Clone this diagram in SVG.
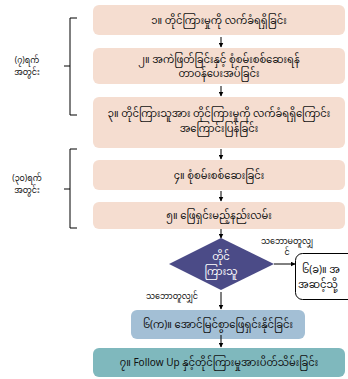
<svg xmlns="http://www.w3.org/2000/svg" width="348" height="379" viewBox="0 0 348 379">
<defs>
<marker id="ah" viewBox="0 0 10 10" refX="9" refY="5" markerWidth="5" markerHeight="5" orient="auto">
<path d="M0,0 L10,5 L0,10 z" fill="#000"/>
</marker>
<style>
.t{font-family:"Noto Sans Myanmar","Noto Sans","DejaVu Sans",sans-serif;font-size:10px;fill:#111;text-anchor:middle}
.s{font-family:"Noto Sans Myanmar","Noto Sans","DejaVu Sans",sans-serif;font-size:8px;fill:#111;text-anchor:middle}
.peach{fill:#f5ddd0}
.c{stroke:#000;stroke-width:1;fill:none;marker-end:url(#ah)}
.br{stroke:#000;stroke-width:1;fill:none}
</style>
</defs>
<rect width="348" height="379" fill="#fff"/>
<g id="bracket1">
<path class="br" d="M77,18 H70 V115 H77 M70,66 H64"/>
<text class="s" x="27" y="63">(၇)ရက်</text>
<text class="s" x="27" y="75">အတွင်း</text>
</g>
<g id="bracket2">
<path class="br" d="M77,149 H70 V228 H77 M70,189 H64"/>
<text class="s" x="27" y="181">(၃၀)ရက်</text>
<text class="s" x="27" y="193">အတွင်း</text>
</g>
<g id="n1">
<rect class="peach" x="93" y="5" width="252" height="30" rx="6"/>
<text class="t" x="219" y="24">၁။ တိုင်ကြားမှုကို လက်ခံရရှိခြင်း</text>
</g>
<g id="n2">
<rect class="peach" x="93" y="48" width="252" height="36" rx="6"/>
<text class="t" x="219" y="63">၂။ အကဲဖြတ်ခြင်းနှင့် စုံစမ်းစစ်ဆေးရန်</text>
<text class="t" x="219" y="77">တာဝန်ပေးအပ်ခြင်း</text>
</g>
<g id="n3">
<rect class="peach" x="93" y="97" width="252" height="51" rx="6"/>
<text class="t" x="219" y="117">၃။ တိုင်ကြားသူအား တိုင်ကြားမှုကို လက်ခံရရှိကြောင်း</text>
<text class="t" x="219" y="132">အကြောင်းပြန်ခြင်း</text>
</g>
<g id="n4">
<rect class="peach" x="93" y="160" width="252" height="30" rx="6"/>
<text class="t" x="219" y="179">၄။ စုံစမ်းစစ်ဆေးခြင်း</text>
</g>
<g id="n5">
<rect class="peach" x="93" y="202" width="252" height="27" rx="6"/>
<text class="t" x="219" y="219">၅။ ဖြေရှင်းမည့်နည်းလမ်း</text>
</g>
<g id="decision">
<polygon points="221,238 274,264 221,290 169,264" fill="#4b4b87"/>
<text class="t" x="221" y="260" style="fill:#fff">တိုင်</text>
<text class="t" x="221" y="275" style="fill:#fff">ကြားသူ</text>
</g>
<g id="n6b">
<rect x="295.5" y="253.5" width="70" height="46" rx="7" fill="#fff" stroke="#000" stroke-width="1"/>
<text class="t" x="302" y="273" style="text-anchor:start">၆(ခ)။ အ</text>
<text class="t" x="298" y="288" style="text-anchor:start">အဆင့်သို့</text>
</g>
<g id="n6a">
<rect x="131" y="310" width="174" height="29" rx="6" fill="#a3bfd5"/>
<text class="t" x="218" y="328">၆(က)။ အောင်မြင်စွာဖြေရှင်းနိုင်ခြင်း</text>
</g>
<g id="n7">
<rect x="93" y="348" width="252" height="29" rx="6" fill="#7fb8bd"/>
<text class="t" x="219" y="366">၇။ Follow Up နှင့်တိုင်ကြားမှုအားပိတ်သိမ်းခြင်း</text>
</g>
<g id="connectors">
<path class="c" d="M221,37 V47"/>
<path class="c" d="M221,86 V96"/>
<path class="c" d="M221,149 V159"/>
<path class="c" d="M221,191 V201"/>
<path class="c" d="M221,229 V238"/>
<path class="c" d="M274,264 H295"/>
<path class="c" d="M221,292 V309"/>
<path class="c" d="M221,335 V347"/>
<text class="s" x="287" y="244">သဘောမတူလျှ</text>
<text class="s" x="287" y="255">င်</text>
<text class="s" x="172" y="299">သဘောတူလျှင်</text>
</g>
</svg>
